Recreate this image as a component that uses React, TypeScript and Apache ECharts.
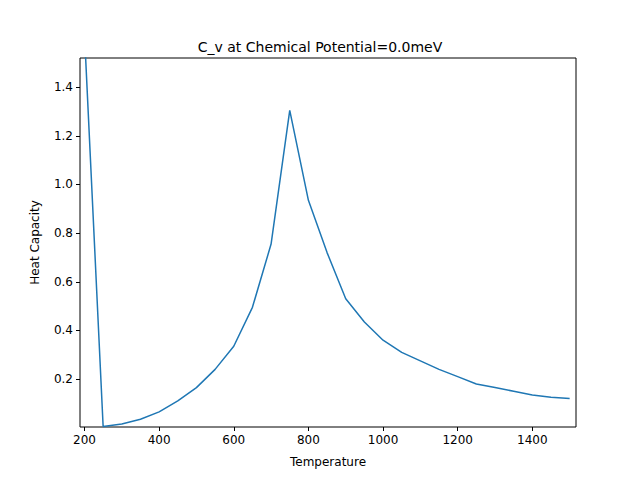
import React, { useEffect, useRef } from "react";
import * as echarts from "echarts";

const temps = [200, 250, 300, 350, 400, 450, 500, 550, 600, 650, 700, 750, 800, 850, 900, 950, 1000, 1050, 1100, 1150, 1200, 1250, 1300, 1350, 1400, 1450, 1500];
const cv = [1.62, 0.005, 0.015, 0.035, 0.065, 0.11, 0.165, 0.24, 0.335, 0.495, 0.755, 1.305, 0.935, 0.72, 0.53, 0.435, 0.36, 0.31, 0.275, 0.24, 0.21, 0.18, 0.165, 0.15, 0.135, 0.125, 0.12];
const xTicks = [200, 400, 600, 800, 1000, 1200, 1400];
const yTicks = [0.2, 0.4, 0.6, 0.8, 1.0, 1.2, 1.4];

export default function App() {
  const ref = useRef<HTMLDivElement>(null);
  useEffect(() => {
    const chart = echarts.init(ref.current!, null, { renderer: "svg" });
    const font = "DejaVu Sans";
    chart.setOption({
      animation: false,
      title: { text: "C_v at Chemical Potential=0.0meV", left: "center", top: 35, textStyle: { fontFamily: font, fontSize: 14, fontWeight: "normal", color: "#000" } },
      grid: { left: 80, right: 64, top: 58, bottom: 53, show: true, borderColor: "#000", borderWidth: 1 },
      xAxis: {
        type: "value", min: 188, max: 1517, name: "Temperature", nameLocation: "middle", nameGap: 29,
        nameTextStyle: { fontFamily: font, fontSize: 12, color: "#000" },
        splitLine: { show: false },
        axisLine: { show: false },
        axisTick: { show: true, inside: false, length: 4, customValues: xTicks, lineStyle: { color: "#000" } },
        axisLabel: { customValues: xTicks, formatter: (v: number) => String(v), fontFamily: font, fontSize: 12, color: "#000", margin: 7 },
      },
      yAxis: {
        type: "value", min: 0.003, max: 1.52, name: "Heat Capacity", nameLocation: "middle", nameGap: 39,
        nameTextStyle: { fontFamily: font, fontSize: 12, color: "#000" },
        splitLine: { show: false },
        axisLine: { show: false },
        axisTick: { show: true, inside: false, length: 4, customValues: yTicks, lineStyle: { color: "#000" } },
        axisLabel: { customValues: yTicks, formatter: (v: number) => v.toFixed(1), fontFamily: font, fontSize: 12, color: "#000", margin: 7 },
      },
      series: [{
        type: "line", data: temps.map((t, i) => [t, cv[i]]), showSymbol: false, clip: true,
        lineStyle: { color: "#1f77b4", width: 1.5 },
      }],
    });
    return () => chart.dispose();
  }, []);
  return <div ref={ref} style={{ width: 640, height: 480, position: "absolute", left: 0, top: 0 }} />;
}
